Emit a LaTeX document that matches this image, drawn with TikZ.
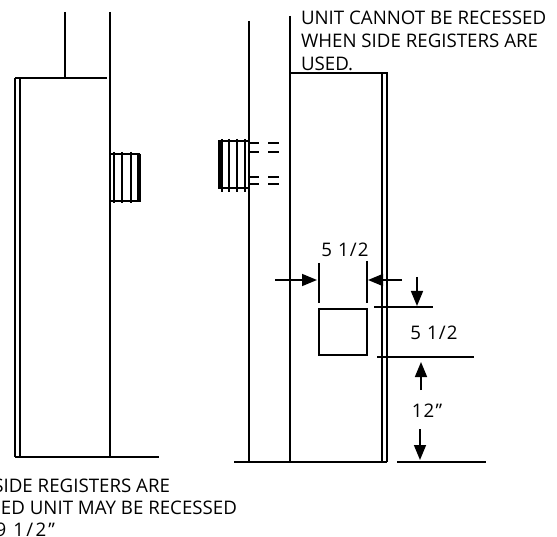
\documentclass[tikz,border=0pt]{standalone}
\usepackage{fontspec}
\setmainfont{Open Sans}
\usepackage{tikz}
\usetikzlibrary{arrows.meta,positioning}

\begin{document}
\begin{tikzpicture}[x=1pt,y=-1pt,line width=2pt,
    thinline/.style={line width=1.2pt},
    dimarrow/.style={line width=1.6pt,-{Triangle[length=15pt,width=12pt]}},
    notetext/.style={font=\fontsize{18.7}{23}\selectfont,inner sep=0pt,anchor=base west},
    dimtext/.style={font=\fontsize{18.7}{18}\selectfont\addfontfeature{LetterSpace=6},inner sep=0pt}]
    \useasboundingbox (0,0) rectangle (557,537);
    % left unit
    \draw (65,12) -- (65,78);
    \draw (110,12) -- (110,457);
    \draw (15,78) -- (107,78);
    \draw[thinline] (15,78) -- (15,457);
    \draw (20,78) -- (20,457);
    \draw (15,457) -- (159,457);
    \foreach \y in {154,201}
        \draw (110,\y) -- (140,\y);
    \foreach \x in {114,122,131}
        \draw (\x,152) -- (\x,203);
    \draw[line width=3.5pt] (139,154) -- (139,202);
    % right unit
    \draw (248.5,21) -- (248.5,462);
    \draw (289.5,16) -- (289.5,462);
    \draw (289,73.5) -- (388,73.5);
    \draw[thinline] (382,73) -- (382,462);
    \draw (387,73) -- (387,462);
    \draw (234,462) -- (387,462);
    \foreach \y in {141,188}
        \draw (218,\y) -- (248,\y);
    \foreach \x in {222,229,237,245}
        \draw (\x,139) -- (\x,192);
    \draw[line width=3.5pt] (220,141) -- (220,188);
    \foreach \y in {143,152,177,184} {
        \draw (248,\y) -- (259,\y);
        \draw (268,\y) -- (279,\y);
    }
    % opening and dimensions
    \draw (319,309) rectangle (367,355);
    \draw (319,263) -- (319,303);
    \draw (367,261) -- (367,303);
    \draw (374,307) -- (433,307);
    \draw (377,357) -- (474,357);
    \draw (397,462) -- (486,462);
    \coordinate (widthleft) at (275,280);
    \coordinate (widthright) at (402,280);
    \coordinate (topdim) at (417,277);
    \coordinate (bottomdim) at (421,390);
    \coordinate (floordim) at (420,429);
    \draw[dimarrow] (widthleft) -- (317,280);
    \draw[dimarrow] (widthright) -- (368,280);
    \draw[dimarrow] (topdim) -- (417,306);
    \draw[dimarrow] (bottomdim) -- (421,362);
    \draw[dimarrow] (floordim) -- (420,460);
    \node[dimtext] (widthlabel) at (345,250) {5 1/2};
    \node[dimtext] (heightlabel) at (434,333) {5 1/2};
    \node[dimtext] (floorlabel) at (427,411) {12"};
    % notes
    \node[notetext] (noteone) at (300,25) {UNIT CANNOT BE RECESSED};
    \node[notetext] (notetwo) at (300,48) {WHEN SIDE REGISTERS ARE};
    \node[notetext] (notethree) at (300,71) {USED.};
    \begin{scope}
        \clip (0,0) rectangle (557,537);
        \node[notetext,anchor=base east] (leftone) at (171,492) {SIDE REGISTERS ARE};
        \node[notetext,anchor=base east] (lefttwo) at (238,514) {SED UNIT MAY BE RECESSED};
        \node[notetext,anchor=base east,font=\fontsize{18.7}{23}\selectfont\addfontfeature{LetterSpace=12}] (leftthree) at (56,536) {9 1/2"};
    \end{scope}
\end{tikzpicture}
\end{document}
